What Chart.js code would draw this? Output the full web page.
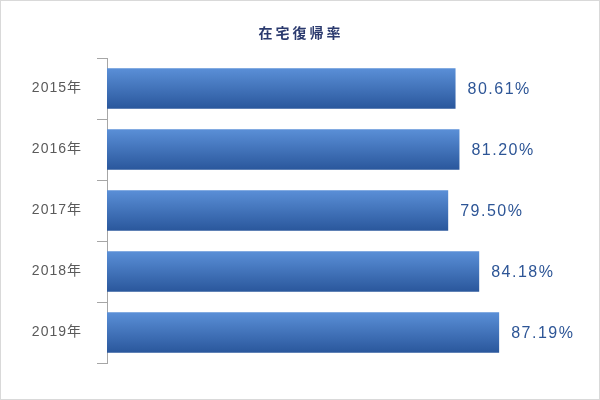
<!DOCTYPE html>
<html>
<head>
<meta charset="utf-8">
<script src="https://cdn.jsdelivr.net/npm/chart.js@4/dist/chart.umd.min.js"></script>
<style>
  html, body { margin: 0; padding: 0; background: #fff; }
  #wrap { width: 600px; height: 400px; box-sizing: border-box; border: 1px solid #d9d9d9; }
</style>
</head>
<body>
<div id="wrap"><canvas id="rateChart"></canvas></div>
<script>
// data
const years = ['2015年', '2016年', '2017年', '2018年', '2019年'];
const rates = [80.61, 81.20, 79.50, 84.18, 87.19];
const titleText = '在宅復帰率';

const latinFont = '"Liberation Sans", "Noto Sans CJK JP", sans-serif';
const barPct = 0.66;

// title with wide letter spacing, plus the "80.61%" labels right of each bar
const textLayer = {
    id: 'textLayer',
    beforeDraw(chart) {
        // slight spacing for the year labels on the axis
        if ('letterSpacing' in chart.ctx) chart.ctx.letterSpacing = '1px';
    },
    afterDatasetsDraw(chart) {
        const ctx = chart.ctx;
        const meta = chart.getDatasetMeta(0);
        ctx.save();
        ctx.textBaseline = 'middle';

        ctx.font = 'bold 14px "Noto Sans CJK JP", sans-serif';
        ctx.fillStyle = '#2b3a6e';
        ctx.textAlign = 'center';
        if ('letterSpacing' in ctx) ctx.letterSpacing = '3px';
        ctx.fillText(titleText, chart.width / 2 + 1, 32);

        ctx.font = '16px ' + latinFont;
        ctx.fillStyle = '#2d5596';
        ctx.textAlign = 'left';
        if ('letterSpacing' in ctx) ctx.letterSpacing = '1.5px';
        meta.data.forEach((bar, i) => {
            ctx.fillText(rates[i].toFixed(2) + '%', bar.x + 12, bar.y + 1);
        });
        ctx.restore();
    }
};

// vertical gradient per bar, top light blue -> bottom dark blue
function barGradient(c) {
    const chart = c.chart;
    const yScale = chart.scales.y;
    if (!chart.chartArea || !yScale) return '#3f72bf';
    const cy = yScale.getPixelForValue(c.dataIndex);
    const h = (chart.chartArea.bottom - chart.chartArea.top) / years.length * barPct;
    if (!Number.isFinite(cy) || !Number.isFinite(h)) return '#3f72bf';
    const g = chart.ctx.createLinearGradient(0, cy - h / 2, 0, cy + h / 2);
    g.addColorStop(0, '#5a8fd7');
    g.addColorStop(1, '#2a579c');
    return g;
}

document.addEventListener('DOMContentLoaded', () => {
    const canvas = document.getElementById('rateChart');
    new Chart(canvas, {
        type: 'bar',
        data: {
            labels: years,
            datasets: [{
                data: rates,
                backgroundColor: barGradient,
                borderWidth: 0,
                categoryPercentage: 1,
                barPercentage: barPct
            }]
        },
        options: {
            indexAxis: 'y',
            responsive: true,
            maintainAspectRatio: false,
            animation: false,
            layout: { padding: { top: 57, left: 0, right: 15, bottom: 36 } },
            plugins: {
                legend: { display: false },
                tooltip: { enabled: false },
                title: { display: false }
            },
            scales: {
                x: {
                    display: false,
                    min: 28,
                    max: 100
                },
                y: {
                    afterFit: (scale) => { scale.width = 106; },
                    border: { display: true, color: '#a6a6a6', width: 1 },
                    grid: {
                        offset: true,
                        drawOnChartArea: false,
                        color: '#a6a6a6',
                        tickLength: 10
                    },
                    ticks: {
                        color: '#5a5a5a',
                        padding: 15,
                        font: { family: latinFont, size: 14 }
                    }
                }
            }
        },
        plugins: [textLayer]
    });
});
</script>
</body>
</html>
